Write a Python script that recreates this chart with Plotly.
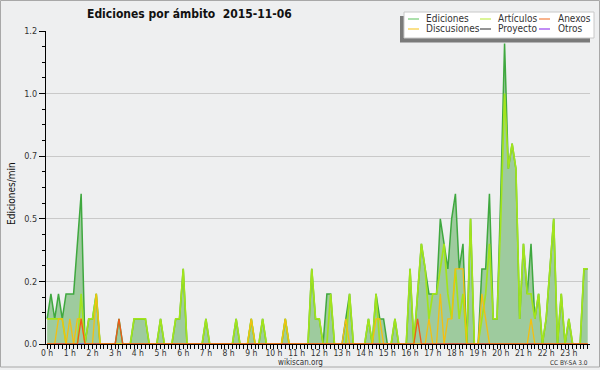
import plotly.graph_objects as go

# ---- data: edits per minute, 10-minute bins (6 per hour, 0h..23h50) ----
minutes = [i * 10 for i in range(144)]
hour_labels = [f"{h} h" for h in range(24)]
hour_ticks = [h * 60 for h in range(24)]

ediciones = [
    0.1, 0.2, 0.1, 0.2, 0.1, 0.2,   0.2, 0.2, 0.4, 0.6, 0, 0.1,
    0.1, 0.2, 0, 0, 0, 0,           0, 0.1, 0, 0, 0, 0.1,
    0.1, 0.1, 0.1, 0, 0, 0,         0.1, 0, 0, 0, 0.1, 0.1,
    0.3, 0, 0, 0, 0, 0,             0.1, 0, 0, 0, 0, 0,
    0, 0, 0.1, 0, 0, 0,             0.1, 0, 0, 0.1, 0, 0,
    0, 0, 0, 0.1, 0, 0,             0, 0, 0, 0, 0.3, 0.1,
    0.1, 0, 0.2, 0.2, 0, 0,         0, 0.1, 0.2, 0, 0, 0,
    0, 0.1, 0, 0.2, 0.1, 0.1,       0, 0, 0.1, 0, 0, 0,
    0.3, 0, 0.2, 0.4, 0.3, 0.2,     0.2, 0.2, 0.5, 0.4, 0.3, 0.5,
    0.6, 0.3, 0.4, 0, 0.5, 0,       0, 0.3, 0.3, 0.6, 0.1, 0.1,
    0.6, 1.2, 0.7, 0.8, 0.7, 0.1,   0.4, 0.2, 0.4, 0.1, 0.2, 0,
    0.1, 0.3, 0.5, 0, 0.2, 0,       0.1, 0, 0, 0, 0.3, 0.3,
]
articulos = [
    0.1, 0.1, 0.1, 0.1, 0.1, 0,     0, 0, 0, 0.2, 0, 0.1,
    0.1, 0.2, 0, 0, 0, 0,           0, 0, 0, 0, 0, 0.1,
    0.1, 0.1, 0.1, 0, 0, 0,         0.1, 0, 0, 0, 0.1, 0.1,
    0.3, 0, 0, 0, 0, 0,             0.1, 0, 0, 0, 0, 0,
    0, 0, 0.1, 0, 0, 0,             0.1, 0, 0, 0.1, 0, 0,
    0, 0, 0, 0.1, 0, 0,             0, 0, 0, 0, 0.3, 0.1,
    0.1, 0, 0, 0.2, 0, 0,           0, 0, 0.2, 0, 0, 0,
    0, 0.1, 0, 0.2, 0, 0,           0, 0, 0.1, 0, 0, 0,
    0.3, 0, 0.2, 0.4, 0.3, 0.1,     0.2, 0.2, 0.3, 0.4, 0.2, 0.1,
    0.3, 0.1, 0.2, 0, 0.5, 0,       0, 0.1, 0.2, 0.4, 0.1, 0.1,
    0.5, 1.0, 0.7, 0.8, 0.7, 0.1,   0.4, 0.2, 0.2, 0.1, 0.2, 0,
    0.1, 0.3, 0.5, 0, 0.2, 0,       0.1, 0, 0, 0, 0.3, 0.3,
]
discusiones = [
    0, 0, 0, 0.1, 0.1, 0,           0.1, 0, 0.1, 0.1, 0, 0,
    0, 0.2, 0, 0, 0, 0,             0, 0, 0, 0, 0, 0,
    0, 0, 0, 0, 0, 0,               0, 0, 0, 0, 0, 0,
    0, 0, 0, 0, 0, 0,               0, 0, 0, 0, 0, 0,
    0, 0, 0, 0, 0, 0,               0.1, 0, 0, 0, 0, 0,
    0, 0, 0, 0.1, 0, 0,             0, 0, 0, 0, 0, 0,
    0, 0, 0, 0, 0, 0,               0, 0.1, 0, 0, 0, 0,
    0, 0, 0, 0.1, 0.1, 0,           0, 0, 0, 0, 0, 0,
    0, 0, 0, 0, 0, 0.1,             0, 0, 0.2, 0, 0.1, 0.1,
    0.3, 0.3, 0.3, 0, 0, 0,         0, 0.2, 0.1, 0, 0, 0,
    0, 0, 0, 0, 0, 0,               0, 0, 0.1, 0, 0, 0,
    0, 0, 0, 0, 0, 0,               0, 0, 0, 0, 0, 0,
]
anexos = [
    0, 0, 0, 0, 0, 0,               0, 0, 0, 0.1, 0, 0,
    0, 0, 0, 0, 0, 0,               0, 0.1, 0, 0, 0, 0,
] + [0] * 54 + [
    0, 0, 0, 0, 0, 0,               0, 0, 0, 0, 0, 0,
    0, 0, 0, 0, 0, 0,               0, 0, 0.1, 0, 0, 0,
] + [0] * 42
proyecto = [0] * 144
otros = [0] * 144

series_names = ["Ediciones", "Artículos", "Anexos", "Discusiones", "Proyecto", "Otros"]
legend_colors = ["#7fd07f", "#c8f060", "#f58a50", "#f8cf4a", "#5a5a5a", "#a050f0"]

# ---- geometry helpers (pixel -> paper) ----
W, H = 600, 370
L, R, T, B = 46, 590, 31, 344
def px(x):
    return (x - L) / (R - L)
def py(y):
    return (B - y) / (B - T)

FONT = "DejaVu Sans Condensed, DejaVu Sans, sans-serif"

fig = go.Figure()
fig.add_trace(go.Scatter(x=minutes, y=ediciones, mode="lines", fill="tozeroy",
                         fillcolor="#9ecb9e", line=dict(color="#3fa83f", width=1.5),
                         name="Ediciones", showlegend=False))
fig.add_trace(go.Scatter(x=minutes, y=proyecto, mode="lines",
                         line=dict(color="#5a5a5a", width=1), showlegend=False))
fig.add_trace(go.Scatter(x=minutes, y=otros, mode="lines",
                         line=dict(color="#a050f0", width=1), showlegend=False))
fig.add_trace(go.Scatter(x=minutes, y=articulos, mode="lines",
                         line=dict(color="#a2e41c", width=1.7), showlegend=False))
fig.add_trace(go.Scatter(x=minutes, y=discusiones, mode="lines",
                         line=dict(color="#f4bf10", width=1.3), showlegend=False))
fig.add_trace(go.Scatter(x=minutes, y=anexos, mode="lines",
                         line=dict(color="#f05a1a", width=1.3), showlegend=False))

shapes = []
ann = []
# outer frame
shapes.append(dict(type="rect", xref="paper", yref="paper",
                   x0=px(0.5), x1=px(599.5), y0=py(0.5), y1=py(367),
                   line=dict(color="#a8a8a8", width=1), fillcolor="rgba(0,0,0,0)", layer="above"))
# legend box with shadow
shapes.append(dict(type="rect", xref="paper", yref="paper",
                   x0=px(400), x1=px(590), y0=py(16), y1=py(42.5),
                   line=dict(width=0), fillcolor="#7a7a7a", layer="above"))
shapes.append(dict(type="rect", xref="paper", yref="paper",
                   x0=px(404), x1=px(594), y0=py(12), y1=py(38),
                   line=dict(color="#c8c8c8", width=1), fillcolor="#ffffff", layer="above"))
cols = [(408, 419, 424), (480, 491, 496), (539, 550, 555.5)]
rows = [19, 29]
for k, (name, col) in enumerate(zip(series_names, legend_colors)):
    r, c = divmod(k, 3)
    x0, x1, xt = cols[c]
    yy = rows[r]
    shapes.append(dict(type="line", xref="paper", yref="paper",
                       x0=px(x0), x1=px(x1), y0=py(yy), y1=py(yy),
                       line=dict(color=col, width=1.3), layer="above"))
    ann.append(dict(text=name, xref="paper", yref="paper", x=px(xt), y=py(yy),
                    xanchor="left", yanchor="middle", showarrow=False,
                    font=dict(family=FONT, size=10, color="#333333")))

# title
ann.append(dict(text="<b>Ediciones por ámbito  2015-11-06</b>", xref="paper", yref="paper",
                x=px(85), y=py(14), xanchor="left", yanchor="middle", showarrow=False,
                font=dict(family=FONT, size=12, color="#111111")))
# y-axis title
ann.append(dict(text="Ediciones/min", xref="paper", yref="paper", x=px(11), y=py(194),
                xanchor="center", yanchor="middle", textangle=-90, showarrow=False,
                font=dict(family=FONT, size=10, color="#111111")))
# footer
ann.append(dict(text="wikiscan.org", xref="paper", yref="paper", x=px(300), y=py(362),
                xanchor="center", yanchor="middle", showarrow=False,
                font=dict(family=FONT, size=8, color="#333333")))
ann.append(dict(text="CC BY-SA 3.0", xref="paper", yref="paper", x=px(590), y=py(362.5),
                xanchor="right", yanchor="middle", showarrow=False,
                font=dict(family=FONT, size=6.5, color="#333333")))

fig.update_layout(
    width=W, height=H,
    margin=dict(l=L, r=W - R, t=T, b=H - B, pad=0),
    paper_bgcolor="#eeeff0", plot_bgcolor="#eeeff0",
    shapes=shapes, annotations=ann, showlegend=False,
    xaxis=dict(range=[-3, 1436], tickmode="array", tickvals=hour_ticks, ticktext=hour_labels,
               ticks="outside", ticklen=4, tickcolor="#000", tickwidth=1,
               minor=dict(dtick=10, tick0=0, ticks="outside", ticklen=4, tickcolor="#000", tickwidth=1),
               showline=True, linecolor="#000", linewidth=1.2, showgrid=False, zeroline=False,
               tickfont=dict(family=FONT, size=8.5, color="#333"), layer="above traces",
               ticklabelstandoff=-3, fixedrange=True),
    yaxis=dict(range=[0, 1.25], tickmode="array", tickvals=[0, 0.25, 0.5, 0.75, 1.0, 1.25],
               ticktext=["0.0", "0.2", "0.5", "0.7", "1.0", "1.2"],
               ticks="outside", ticklen=6, tickcolor="#000", tickwidth=1,
               minor=dict(dtick=0.0625, tick0=0, ticks="outside", ticklen=3, tickcolor="#000",
                          showgrid=False),
               showline=True, linecolor="#000", linewidth=1.2, showgrid=True,
               gridcolor="#c9c9c9", gridwidth=1, zeroline=False,
               tickfont=dict(family=FONT, size=9, color="#333"), layer="above traces",
               fixedrange=True),
)

fig.write_html("out.html", config={"displayModeBar": False},
               post_script="document.body.style.margin='0px';document.body.style.overflow='hidden';")
